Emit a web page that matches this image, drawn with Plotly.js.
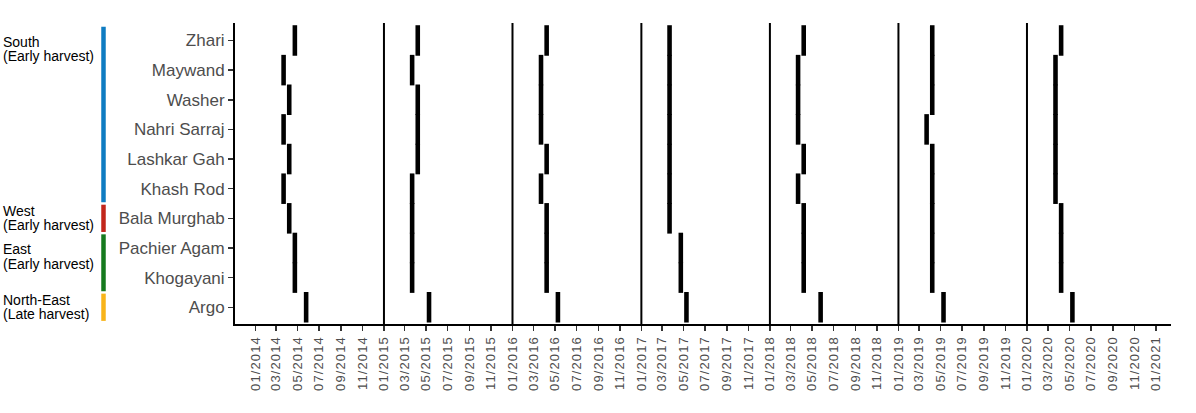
<!DOCTYPE html>
<html>
<head>
<meta charset="utf-8">
<script src="https://cdn.plot.ly/plotly-3.0.1.min.js"></script>
<style>
html,body{margin:0;padding:0;background:#fff;}
#chart{width:1196px;height:413px;}
.xtick text{letter-spacing:1.1px;}
</style>
</head>
<body>
<div id="chart"></div>
<script>
// ---- data ----
const districts = ['Zhari','Maywand','Washer','Nahri Sarraj','Lashkar Gah','Khash Rod','Bala Murghab','Pachier Agam','Khogayani','Argo'];
const years = [2014, 2015, 2016, 2017, 2018, 2019, 2020];
// peak date per district (same order as districts), one array per year
const peak2014 = ['2014-04-23','2014-03-22','2014-04-07','2014-03-22','2014-04-07','2014-03-22','2014-04-07','2014-04-23','2014-04-23','2014-05-25'];
const peak2015 = ['2015-04-07','2015-03-22','2015-04-07','2015-04-07','2015-04-07','2015-03-22','2015-03-22','2015-03-22','2015-03-22','2015-05-09'];
const peak2016 = ['2016-04-07','2016-03-22','2016-03-22','2016-03-22','2016-04-07','2016-03-22','2016-04-07','2016-04-07','2016-04-07','2016-05-09'];
const peak2017 = ['2017-03-22','2017-03-22','2017-03-22','2017-03-22','2017-03-22','2017-03-22','2017-03-22','2017-04-23','2017-04-23','2017-05-09'];
const peak2018 = ['2018-04-07','2018-03-22','2018-03-22','2018-03-22','2018-04-07','2018-03-22','2018-04-07','2018-04-07','2018-04-07','2018-05-25'];
const peak2019 = ['2019-04-07','2019-04-07','2019-04-07','2019-03-22','2019-04-07','2019-04-07','2019-04-07','2019-04-07','2019-04-07','2019-05-09'];
const peak2020 = ['2020-04-07','2020-03-22','2020-03-22','2020-03-22','2020-03-22','2020-03-22','2020-04-07','2020-04-07','2020-04-07','2020-05-09'];
const peaksByYear = [peak2014, peak2015, peak2016, peak2017, peak2018, peak2019, peak2020];
const yearBoundaries = ['2015-01-01','2016-01-01','2017-01-01','2018-01-01','2019-01-01','2020-01-01'];
const groupNames = ['South','West','East','North-East'];
const groupHarvest = ['(Early harvest)','(Early harvest)','(Early harvest)','(Late harvest)'];
const groupFirst = [0, 6, 7, 9];
const groupLast = [5, 6, 8, 9];
const groupColors = ['#0F7CC2','#C2261B','#167A1E','#F8B41A'];

// ---- styling ----
const FONT = 'Liberation Sans, Arial, Helvetica, sans-serif';
const DAY = 86400000;
const BAR_DAYS = 13;

const traces = peaksByYear.map((dates, i) => ({
  type: 'bar',
  orientation: 'h',
  name: String(years[i]),
  y: districts,
  x: dates.map(() => BAR_DAYS * DAY),
  base: dates.map(d => Date.parse(d + 'T00:00:00Z') - BAR_DAYS * DAY / 2),
  width: 1.03,
  marker: {color: '#000000', line: {width: 0}},
  hoverinfo: 'skip',
  showlegend: false
}));

const L = 235, R = 25, W = 1196;
const plotW = W - L - R;
const groupBarX = (103.5 - L) / plotW;
const labelX = (1 - L) / plotW;

const shapes = [];
yearBoundaries.forEach(d => {
  shapes.push({type: 'line', xref: 'x', yref: 'paper', x0: d, x1: d, y0: 0, y1: 1,
    line: {color: '#000', width: 2}});
});
groupNames.forEach((g, i) => {
  shapes.push({type: 'line', xref: 'paper', yref: 'y',
    x0: groupBarX, x1: groupBarX,
    y0: groupFirst[i] - 0.46, y1: groupLast[i] + 0.46,
    line: {color: groupColors[i], width: 4.5}});
});

const annotations = [];
groupNames.forEach((g, i) => {
  const yc = Math.min((groupFirst[i] + groupLast[i]) / 2, groupFirst[i] + 0.3);
  annotations.push({xref: 'paper', yref: 'y', x: labelX, y: yc,
    xanchor: 'left', yanchor: 'middle', yshift: 7.5, showarrow: false, align: 'left',
    text: g, font: {family: FONT, size: 14, color: '#000'}});
  annotations.push({xref: 'paper', yref: 'y', x: labelX, y: yc,
    xanchor: 'left', yanchor: 'middle', yshift: -7, showarrow: false, align: 'left',
    text: groupHarvest[i], font: {family: FONT, size: 14, color: '#000'}});
});

const layout = {
  width: 1196, height: 413,
  margin: {l: L, r: R, t: 23, b: 89, pad: 0},
  paper_bgcolor: '#fff', plot_bgcolor: '#fff',
  font: {family: FONT},
  barmode: 'overlay',
  showlegend: false,
  xaxis: {
    type: 'date',
    range: ['2013-11-04', '2021-02-13'],
    tickmode: 'linear', tick0: '2014-01-01', dtick: 'M2',
    tickformat: '%m/%Y', tickangle: -90,
    ticks: 'outside', ticklen: 5, tickwidth: 1.5, tickcolor: '#333',
    showline: true, linecolor: '#000', linewidth: 2,
    showgrid: false, zeroline: false,
    tickfont: {family: FONT, size: 13, color: '#4d4d4d'},
    fixedrange: true
  },
  yaxis: {
    type: 'category', categoryorder: 'array', categoryarray: districts,
    range: [9.565, -0.59],
    ticks: 'outside', ticklen: 5, tickwidth: 1.5, tickcolor: '#333',
    showline: true, linecolor: '#000', linewidth: 2,
    showgrid: false, zeroline: false,
    tickfont: {family: FONT, size: 17, color: '#4d4d4d'},
    fixedrange: true
  },
  shapes: shapes,
  annotations: annotations
};

Plotly.newPlot('chart', traces, layout, {staticPlot: true, displayModeBar: false});
</script>
</body>
</html>
